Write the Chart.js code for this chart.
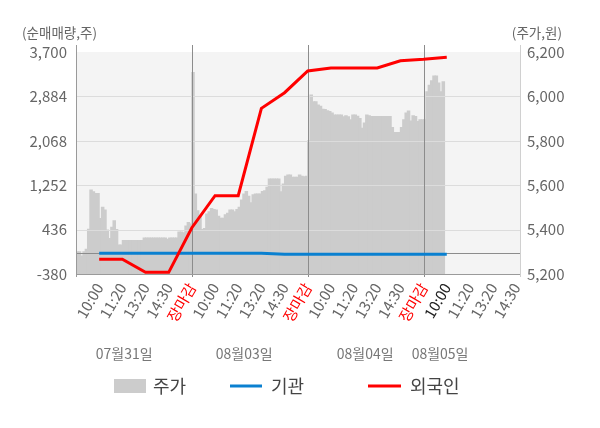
<!DOCTYPE html>
<html>
<head>
<meta charset="utf-8">
<script src="https://cdn.jsdelivr.net/npm/chart.js@4.4.1/dist/chart.umd.min.js"></script>
<style>
  html, body { margin: 0; padding: 0; background: #ffffff; }
  #wrap { width: 600px; height: 428px; position: relative; }
</style>
</head>
<body>
<div id="wrap"><canvas id="c" width="600" height="428"></canvas></div>
<script>
// ---- data ----
const tickLabels = ['10:00','11:20','13:20','14:30','장마감',
                    '10:00','11:20','13:20','14:30','장마감',
                    '10:00','11:20','13:20','14:30','장마감',
                    '10:00','11:20','13:20','14:30'];
const dayLabels = ['07월31일','08월03일','08월04일','08월05일'];
const seriesNames = ['주가','기관','외국인'];
const leftTicks = [-380, 436, 1252, 2068, 2884, 3700];
const rightTicks = [5200, 5400, 5600, 5800, 6000, 6200];

// 기관 / 외국인 net volume at each labelled time (10:00 .. day-4 10:00)
const institution = [0, 0, 0, 0, 0, 0, 0, 0, -15, -15, -15, -15, -15, -15, -15, -15];
const foreign = [-110, -110, -350, -350, 471, 1059, 1059, 2665, 2952, 3351, 3406, 3406, 3406, 3540, 3566, 3602];

// 주가: one value per 1/10 of a label interval
const price = [
  5300, 5300, 5281, 5300, 5311, 5401, 5578, 5570, 5562, 5562,
  5450, 5500, 5488, 5398, 5360, 5410, 5439, 5400, 5330, 5330,
  5350, 5350, 5350, 5350, 5350, 5350, 5350, 5350, 5350, 5362,
  5362, 5362, 5362, 5362, 5362, 5362, 5362, 5362, 5362, 5356,
  5362, 5362, 5362, 5362, 5389, 5389, 5385, 5416, 5431, 5425,
  6107, 5560, 5485, 5460, 5400, 5405, 5470, 5480, 5495, 5490,
  5488, 5460, 5451, 5451, 5466, 5473, 5488, 5488, 5480, 5490,
  5500, 5533, 5560, 5571, 5550, 5520, 5556, 5560, 5560, 5560,
  5571, 5575, 5590, 5628, 5628, 5628, 5628, 5628, 5570, 5605,
  5640, 5646, 5646, 5635, 5635, 5635, 5646, 5640, 5638, 5640,
  5800, 6006, 5976, 5976, 5961, 5955, 5942, 5940, 5935, 5931,
  5925, 5916, 5916, 5916, 5916, 5908, 5912, 5908, 5894, 5916,
  5916, 5910, 5900, 5856, 5880, 5916, 5912, 5909, 5909, 5909,
  5909, 5909, 5909, 5909, 5909, 5909, 5860, 5837, 5837, 5837,
  5860, 5894, 5925, 5934, 5889, 5912, 5909, 5886, 5894, 5894,
  5894, 6020, 6050, 6070, 6092, 6092, 6060, 6020, 6066
];
const slotsPerLabel = 10;

// ---- chart ----
const COLORS = { price: '#cccccc', inst: '#0a80d0', foreign: '#ff0000' };
const FONT = '"Noto Sans CJK KR", "Noto Sans", sans-serif';
const separators = tickLabels.map((t, i) => t === '장마감' ? i + 1 : null).filter(v => v !== null);
const currentDayOpen = tickLabels.lastIndexOf('10:00') + 1;

const priceData = price.map((v, i) => ({ x: (i + 0.5) / slotsPerLabel, y: v }));
const instData = institution.map((v, i) => ({ x: i + 1, y: v }));
const foreignData = foreign.map((v, i) => ({ x: i + 1, y: v }));

function line(ctx, x1, y1, x2, y2) {
  ctx.beginPath(); ctx.moveTo(x1, y1); ctx.lineTo(x2, y2); ctx.stroke();
}

const decor = {
  id: 'decor',
  beforeDatasetsDraw(chart) {
    const { ctx, chartArea: a } = chart;
    ctx.save();
    ctx.fillStyle = '#f4f4f4';
    ctx.fillRect(a.left, a.top, a.right - a.left, a.bottom - a.top);
    ctx.restore();
  },
  afterDatasetDraw(chart, args) {
    if (args.index !== 0) return;
    const { ctx, chartArea: a, scales } = chart;
    ctx.save();
    ctx.lineWidth = 1;
    ctx.strokeStyle = '#dcdcdc';
    leftTicks.slice(1, -1).forEach(v => {
      const y = Math.round(scales.y.getPixelForValue(v)) + 0.5;
      line(ctx, a.left, y, a.right, y);
    });
    ctx.strokeStyle = '#8c8c8c';
    const y0 = Math.round(scales.y.getPixelForValue(0)) + 0.5;
    line(ctx, a.left, y0, a.right, y0);
    separators.forEach(k => {
      const x = Math.round(scales.x.getPixelForValue(k)) + 0.5;
      line(ctx, x, a.top - 7, x, a.bottom + 3);
    });
    ctx.strokeStyle = '#d0d0d0';
    line(ctx, Math.round(a.right) + 0.5, a.top - 7, Math.round(a.right) + 0.5, a.bottom + 3);
    ctx.strokeStyle = '#9a9a9a';
    line(ctx, Math.round(a.left) + 0.5, a.top - 7, Math.round(a.left) + 0.5, a.bottom + 3);
    line(ctx, a.left, Math.round(a.bottom) + 0.5, a.right, Math.round(a.bottom) + 0.5);
    ctx.restore();
  },
  afterDraw(chart) {
    const { ctx, chartArea: a, scales } = chart;
    ctx.save();
    // axis titles
    ctx.fillStyle = '#666666';
    ctx.font = '13.5px ' + FONT;
    ctx.textBaseline = 'middle';
    ctx.textAlign = 'left';
    ctx.fillText('(순매매량,주)', 22, 33);
    ctx.textAlign = 'right';
    ctx.fillText('(주가,원)', 562, 33);
    // day labels
    const dayPos = [2.08, 7.26, 12.48, 15.71];
    ctx.font = '14px ' + FONT;
    ctx.fillStyle = '#777777';
    ctx.textAlign = 'center';
    dayLabels.forEach((d, i) => ctx.fillText(d, scales.x.getPixelForValue(dayPos[i]), 354));
    // legend
    const ly = 386;
    ctx.font = '18px ' + FONT;
    ctx.textAlign = 'left';
    ctx.fillStyle = COLORS.price;
    ctx.fillRect(114, 379, 32, 14);
    ctx.fillStyle = '#444444';
    ctx.fillText(seriesNames[0], 153, ly);
    ctx.strokeStyle = COLORS.inst; ctx.lineWidth = 3;
    line(ctx, 230, ly, 262, ly);
    ctx.fillText(seriesNames[1], 271, ly);
    ctx.strokeStyle = COLORS.foreign;
    line(ctx, 368, ly, 401, ly);
    ctx.fillText(seriesNames[2], 410, ly);
    ctx.restore();
  }
};

new Chart(document.getElementById('c'), {
  type: 'bar',
  data: {
    datasets: [
      { type: 'bar', label: seriesNames[0], data: priceData, yAxisID: 'y1', xAxisID: 'x',
        backgroundColor: COLORS.price, borderWidth: 0, barPercentage: 1, categoryPercentage: 1,
        inflateAmount: 0.6, order: 3 },
      { type: 'line', label: seriesNames[1], data: instData, yAxisID: 'y', xAxisID: 'x',
        borderColor: COLORS.inst, borderWidth: 3, pointRadius: 0, tension: 0, fill: false, order: 2 },
      { type: 'line', label: seriesNames[2], data: foreignData, yAxisID: 'y', xAxisID: 'x',
        borderColor: COLORS.foreign, borderWidth: 3, pointRadius: 0, tension: 0, fill: false, order: 1 }
    ]
  },
  options: {
    responsive: false,
    animation: false,
    devicePixelRatio: 1,
    layout: { padding: { top: 52, left: 0, right: 0, bottom: 0 } },
    plugins: { legend: { display: false }, tooltip: { enabled: false } },
    scales: {
      x: {
        type: 'linear', position: 'bottom', min: 0, max: 19.16, offset: false,
        afterBuildTicks: s => { s.ticks = tickLabels.map((t, i) => ({ value: i + 1 })); },
        afterFit: s => { s.height = 154; },
        grid: { display: false, drawTicks: false, offset: false },
        border: { display: false },
        ticks: {
          autoSkip: false, maxRotation: 60, minRotation: 60, padding: 6,
          font: { family: FONT, size: 15 },
          color: c => {
            const lbl = tickLabels[c.tick.value - 1];
            if (lbl === '장마감') return '#ff0000';
            if (c.tick.value === currentDayOpen) return '#222222';
            return '#666666';
          },
          callback: v => tickLabels[v - 1]
        }
      },
      y: {
        position: 'left', min: leftTicks[0], max: leftTicks[leftTicks.length - 1],
        afterBuildTicks: s => { s.ticks = leftTicks.map(v => ({ value: v })); },
        afterFit: s => { s.width = 76; },
        grid: { display: false, drawTicks: false },
        border: { display: false },
        ticks: { padding: 9, color: '#666666', font: { family: FONT, size: 15 },
                 callback: v => v.toLocaleString('en-US') }
      },
      y1: {
        position: 'right', min: rightTicks[0], max: rightTicks[rightTicks.length - 1],
        afterBuildTicks: s => { s.ticks = rightTicks.map(v => ({ value: v })); },
        afterFit: s => { s.width = 80; },
        grid: { display: false, drawTicks: false },
        border: { display: false },
        ticks: { padding: 7, color: '#666666', font: { family: FONT, size: 15 },
                 callback: v => v.toLocaleString('en-US') }
      }
    }
  },
  plugins: [decor]
});
</script>
</body>
</html>
